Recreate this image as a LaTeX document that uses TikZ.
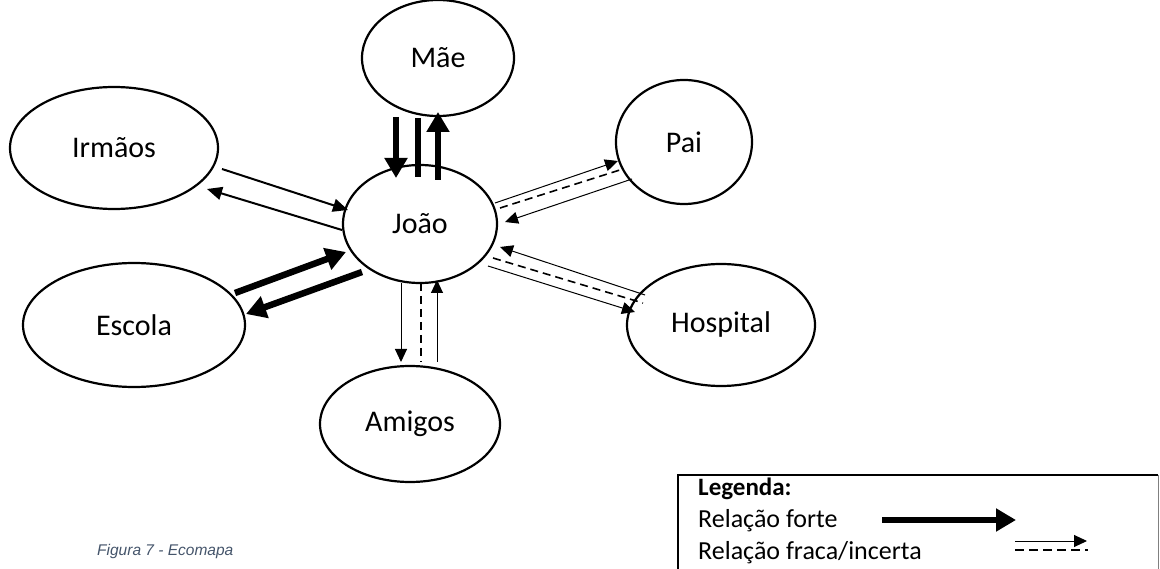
\documentclass[tikz,border=0pt]{standalone}
\usepackage{fontspec}
\setmainfont{Carlito}
\newfontfamily\capfont{Liberation Sans}
\usetikzlibrary{arrows.meta,shapes.geometric}
\definecolor{capblue}{HTML}{44546A}
\begin{document}
\begin{tikzpicture}[x=1pt,y=-1pt,
  party/.style={draw, ellipse, line width=2.2pt, inner sep=0pt,
    font=\fontsize{30}{34}\selectfont},
  strong/.style={line width=6.5pt, -{Triangle[length=20pt,width=22pt]}},
  strongplain/.style={line width=6.5pt},
  medium/.style={line width=2pt, -{Triangle[length=15pt,width=13pt]}},
  weak/.style={line width=1pt, -{Triangle[length=13pt,width=12pt]}},
  weakdash/.style={line width=1.6pt, dash pattern=on 8pt off 5pt},
  legtext/.style={anchor=west, inner sep=0pt, font=\fontsize{26}{30}\selectfont},
]
\useasboundingbox (0,0) rectangle (1160,569);

% family and community circles
\node[party, minimum width=152, minimum height=116] (mae) at (438,58) {Mãe};
\node[party, minimum width=208, minimum height=122] (irmaos) at (114,148) {Irmãos};
\node[party, minimum width=136, minimum height=124] (pai) at (684,142) {Pai};
\node[party, minimum width=154, minimum height=118] (joao) at (420,224) {João};
\node[party, minimum width=222, minimum height=124] (escola) at (134,325) {Escola};
\node[party, minimum width=188, minimum height=122] (hospital) at (721,325) {Hospital};
\node[party, minimum width=180, minimum height=116] (amigos) at (410,424) {Amigos};

% connector end points
\coordinate (m1) at (396,117); \coordinate (j1) at (396,178);
\coordinate (m2) at (418,118); \coordinate (j2) at (418,177);
\coordinate (j3) at (438,180); \coordinate (m3) at (438,112);

\coordinate (i1) at (222,169); \coordinate (j4) at (348,210);
\coordinate (j5) at (342,230); \coordinate (i2) at (207,189);

\coordinate (e1) at (235,293); \coordinate (j6) at (346,252);
\coordinate (j7) at (362,272); \coordinate (e2) at (246,314);

\coordinate (j8) at (495,203); \coordinate (p1) at (618,161);
\coordinate (j9) at (500,208); \coordinate (p2) at (623,169);
\coordinate (p3) at (632,179); \coordinate (j10) at (505,222);

\coordinate (h1) at (645,295); \coordinate (j11) at (500,247);
\coordinate (j12) at (493,258); \coordinate (h2) at (643,303);
\coordinate (j13) at (488,266); \coordinate (h3) at (635,312);

\coordinate (j14) at (401,283); \coordinate (a1) at (401,362);
\coordinate (j15) at (421,283); \coordinate (a2) at (421,362);
\coordinate (a3) at (437,362); \coordinate (j16) at (437,280);

% Mãe
\draw[strong] (m1) -- (j1);
\draw[strongplain] (m2) -- (j2);
\draw[strong] (j3) -- (m3);
% Irmãos
\draw[medium] (i1) -- (j4);
\draw[medium] (j5) -- (i2);
% Escola
\draw[strong] (e1) -- (j6);
\draw[strong] (j7) -- (e2);
% Pai
\draw[weak] (j8) -- (p1);
\draw[weakdash] (j9) -- (p2);
\draw[weak] (p3) -- (j10);
% Hospital
\draw[weak] (h1) -- (j11);
\draw[weakdash] (j12) -- (h2);
\draw[weak] (j13) -- (h3);
% Amigos
\draw[weak] (j14) -- (a1);
\draw[weakdash] (j15) -- (a2);
\draw[weak] (a3) -- (j16);

% legend box
\coordinate (lb1) at (678,569); \coordinate (lb2) at (678,475);
\coordinate (lb3) at (1158,475); \coordinate (lb4) at (1158,569);
\draw[line width=2pt] (lb1) -- (lb2) -- (lb3);
\draw[line width=0.8pt, gray] (lb3) -- (lb4);
\node[legtext, font=\fontsize{25}{29}\selectfont\bfseries] (leg) at (698,489) {Legenda:};
\node[legtext] (lforte) at (698,521) {Relação forte};
\node[legtext] (lfraca) at (698,553) {Relação fraca/incerta};
\coordinate (s1) at (882,520); \coordinate (s2) at (1016,520);
\coordinate (w1) at (1015,541); \coordinate (w2) at (1087,541);
\coordinate (d1) at (1015,550); \coordinate (d2) at (1088,550);
\draw[strong] (s1) -- (s2);
\draw[weak] (w1) -- (w2);
\draw[line width=1.3pt, dash pattern=on 9pt off 5pt] (d1) -- (d2);

% caption
\node[anchor=west, inner sep=0pt, text=capblue,
  font=\capfont\itshape\fontsize{15.5}{18}\selectfont] (cap) at (97,551) {Figura 7 - Ecomapa};
\end{tikzpicture}
\end{document}
